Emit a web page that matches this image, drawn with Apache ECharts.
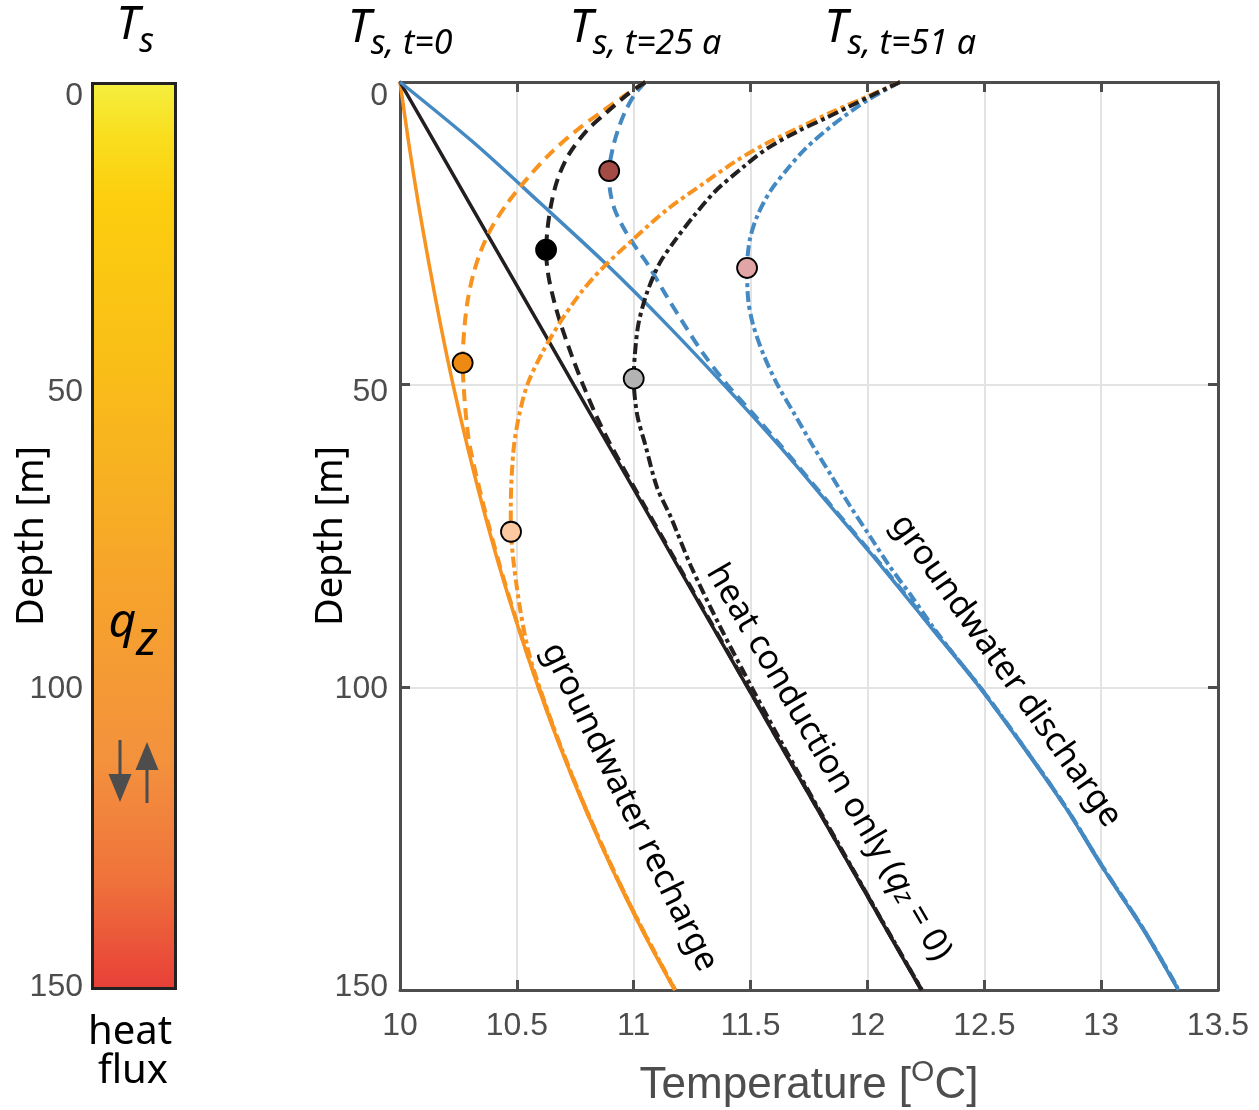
<!DOCTYPE html>
<html>
<head>
<meta charset="utf-8">
<title>Subsurface temperature profiles</title>
<script src="https://cdn.jsdelivr.net/npm/echarts@6.0.0/dist/echarts.min.js"></script>
<style>
  html, body { margin: 0; padding: 0; background: #ffffff; }
  #chart { width: 1259px; height: 1110px; }
</style>
</head>
<body>
<div id="chart"></div>
<script>
// ---- steady-state profiles (surface temperature at t = 0) ----
const depthSteady = [0, 10, 20, 30, 40, 50, 60, 70, 80, 90, 100, 110, 120, 130, 140, 150];
const tempRechargeT0   = [10.000, 10.037, 10.078, 10.124, 10.173, 10.227, 10.287, 10.353, 10.425, 10.505, 10.592, 10.687, 10.792, 10.908, 11.035, 11.175];
const tempConductionT0 = [10.000, 10.149, 10.297, 10.446, 10.595, 10.743, 10.892, 11.041, 11.189, 11.338, 11.487, 11.635, 11.784, 11.933, 12.081, 12.230];
const tempDischargeT0  = [10.000, 10.315, 10.600, 10.880, 11.140, 11.385, 11.620, 11.840, 12.060, 12.270, 12.480, 12.670, 12.850, 13.010, 13.180, 13.330];

// ---- profiles after 25 years of surface warming ----
const depthRechargeT25 = [0, 2, 5, 8, 12, 16, 20, 24, 28, 32, 36, 40, 46, 50, 55, 60, 70, 80, 90, 100, 110, 120, 130, 140, 150];
const tempRechargeT25  = [11.05, 10.97, 10.86, 10.755, 10.638, 10.543, 10.46, 10.393, 10.345, 10.312, 10.29, 10.277, 10.268, 10.272, 10.282, 10.298, 10.358, 10.428, 10.507, 10.594, 10.689, 10.794, 10.91, 11.037, 11.177];
const depthConductionT25 = [0, 2, 5, 8, 12, 16, 20, 24, 28, 32, 36, 40, 45, 50, 55, 60, 70, 80, 90, 100, 110, 120, 130, 140, 150];
const tempConductionT25  = [11.05, 10.975, 10.885, 10.80, 10.722, 10.675, 10.648, 10.632, 10.625, 10.635, 10.658, 10.688, 10.733, 10.783, 10.838, 10.902, 11.046, 11.193, 11.341, 11.489, 11.637, 11.786, 11.935, 12.083, 12.232];
const depthDischargeT25 = [0, 2, 5, 8, 11, 14.7, 18, 21, 24, 27, 30, 35, 40, 45, 50, 55, 60, 70, 80, 90, 100, 110, 120, 130, 140, 150];
const tempDischargeT25  = [11.05, 11.005, 10.962, 10.932, 10.91, 10.895, 10.899, 10.918, 10.955, 11.003, 11.058, 11.135, 11.215, 11.30, 11.40, 11.515, 11.628, 11.845, 12.064, 12.273, 12.482, 12.672, 12.852, 13.012, 13.182, 13.332];

// ---- profiles after 51 years of surface warming ----
const depthRechargeT51 = [0, 2.4, 5, 7.5, 10, 13, 17, 21, 26, 31, 35, 40, 45, 50, 55, 60, 65, 70, 74.3, 80, 88, 95, 102, 110, 120, 130, 140, 150];
const tempRechargeT51  = [12.14, 12.0, 11.845, 11.71, 11.575, 11.44, 11.29, 11.145, 10.997, 10.86, 10.77, 10.68, 10.605, 10.545, 10.51, 10.488, 10.478, 10.474, 10.475, 10.488, 10.518, 10.556, 10.615, 10.69, 10.795, 10.911, 11.038, 11.178];
const depthConductionT51 = [0, 2, 4, 6, 8, 11, 14, 18, 22, 26, 30, 35, 40, 45, 49, 55, 60, 67, 72, 80, 90, 100, 110, 120, 130, 140, 150];
const tempConductionT51  = [12.14, 12.03, 11.925, 11.82, 11.71, 11.57, 11.47, 11.35, 11.26, 11.18, 11.11, 11.055, 11.02, 11.005, 11.0, 11.015, 11.05, 11.10, 11.16, 11.245, 11.37, 11.505, 11.645, 11.79, 11.937, 12.084, 12.233];
const depthDischargeT51 = [0, 3, 7, 11, 14.5, 18, 22, 26, 30.7, 36, 40, 45, 50, 55, 60, 65, 70, 75, 80, 85, 90, 95, 100, 110, 120, 130, 140, 150];
const tempDischargeT51  = [12.14, 12.0, 11.855, 11.735, 11.655, 11.585, 11.53, 11.497, 11.485, 11.49, 11.51, 11.555, 11.615, 11.69, 11.765, 11.845, 11.925, 12.01, 12.095, 12.19, 12.28, 12.378, 12.483, 12.672, 12.852, 13.012, 13.182, 13.332];

// ---- turning points (temperature minima) of the transient profiles ----
const minimaTemps  = [10.895, 10.625, 10.268, 11.485, 11.0, 10.475];
const minimaDepths = [14.7, 27.7, 46.4, 30.7, 49.0, 74.3];
const minimaColors = ['#a54b45', '#000000', '#ee8a12', '#e0a5a4', '#b3b3b3', '#fcc9a0'];

// ---- surface temperature at each time step ----
const surfaceTemps  = [10, 11.05, 12.14];
const surfaceLabels = ['s, t=0', 's, t=25 a', 's, t=51 a'];

// ---- axis ticks ----
const tempTicks  = { min: 10, max: 13.5, step: 0.5 };
const depthTicks = { min: 0, max: 150, step: 50 };
const columnDepth = [150];

const ORANGE = '#f7931e';
const BLACK  = '#231f20';
const BLUE   = '#4589c2';
const AXIS_GREY = '#4d4d4d';
const TEXT_FONT = '"Noto Sans", "Open Sans", sans-serif';
const TICK_FONT = '"Liberation Sans", Arial, sans-serif';

function pairs(temps, depths) {
  return depths.map((d, i) => [temps[i], d]);
}

function profile(name, temps, depths, color, dash, width, z) {
  return {
    name: name,
    type: 'line',
    xAxisIndex: 1,
    yAxisIndex: 1,
    data: pairs(temps, depths),
    showSymbol: false,
    smooth: 0.3,
    silent: true,
    z: z,
    lineStyle: { color: color, width: width, type: dash, cap: 'butt' }
  };
}

const DASHED = [12, 7];
const DASHDOT = [11, 4, 4, 4];

// depth tick labels sit slightly below their ticks, most at the surface
const depthLabelStyle = (pad) => ({ fontSize: 32, fontFamily: TICK_FONT, color: AXIS_GREY, padding: pad });
const depthLabelRich = {
  d0: depthLabelStyle([28, 0, 0, 0]),
  d50: depthLabelStyle([16, 0, 0, 0]),
  d100: depthLabelStyle([4, 0, 0, 0]),
  d150: depthLabelStyle([0, 0, 6, 0])
};
const depthLabelFormatter = (v) => '{d' + v + '|' + v + '}';

const chart = echarts.init(document.getElementById('chart'), null, { renderer: 'canvas' });

const boxAxisLine = { show: true, onZero: false, lineStyle: { color: AXIS_GREY, width: 3 } };
const boxTick = { show: true, inside: true, length: 10, lineStyle: { color: AXIS_GREY, width: 3 } };

const option = {
  animation: false,
  backgroundColor: '#ffffff',
  grid: [
    { left: 91, top: 82, width: 86, height: 908, containLabel: false, outerBoundsMode: 'none' },
    { left: 400, top: 82, width: 818, height: 908, containLabel: false, outerBoundsMode: 'none' }
  ],
  xAxis: [
    { gridIndex: 0, type: 'category', data: ['qz'], show: false },
    {
      gridIndex: 1, type: 'value', position: 'bottom',
      min: tempTicks.min, max: tempTicks.max, interval: tempTicks.step,
      axisLine: boxAxisLine, axisTick: boxTick,
      axisLabel: { color: AXIS_GREY, fontSize: 32, fontFamily: TICK_FONT, margin: 20 },
      splitLine: { show: true, lineStyle: { color: '#e3e3e3', width: 2 } },
      name: '{b|Temperature [}{sup|O}{b|C]}',
      nameLocation: 'middle',
      nameGap: 68,
      nameMoveOverlap: false,
      nameTextStyle: {
        rich: {
          b: { fontSize: 44, fontFamily: TICK_FONT, color: AXIS_GREY, lineHeight: 50, verticalAlign: 'bottom' },
          sup: { fontSize: 30, fontFamily: TICK_FONT, color: AXIS_GREY, lineHeight: 30, padding: [0, 0, 20, 0], verticalAlign: 'bottom' }
        }
      }
    },
    {
      gridIndex: 1, type: 'value', position: 'top',
      min: tempTicks.min, max: tempTicks.max, interval: tempTicks.step,
      axisLine: boxAxisLine, axisTick: boxTick,
      axisLabel: { show: false }, splitLine: { show: false }
    }
  ],
  yAxis: [
    {
      gridIndex: 0, type: 'value', inverse: true,
      min: depthTicks.min, max: depthTicks.max, interval: depthTicks.step,
      axisLine: { show: false }, axisTick: { show: false },
      axisLabel: { color: AXIS_GREY, fontSize: 32, fontFamily: TICK_FONT, margin: 8, formatter: depthLabelFormatter, rich: depthLabelRich },
      splitLine: { show: false },
      name: 'Depth [m]', nameLocation: 'middle', nameRotate: 90, nameGap: 40,
      nameMoveOverlap: false,
      nameTextStyle: { fontSize: 38, fontFamily: TEXT_FONT, color: '#000000' }
    },
    {
      gridIndex: 1, type: 'value', inverse: true, position: 'left',
      min: depthTicks.min, max: depthTicks.max, interval: depthTicks.step,
      axisLine: boxAxisLine, axisTick: boxTick,
      axisLabel: { color: AXIS_GREY, fontSize: 32, fontFamily: TICK_FONT, margin: 12, formatter: depthLabelFormatter, rich: depthLabelRich },
      splitLine: { show: true, lineStyle: { color: '#e3e3e3', width: 2 } },
      name: 'Depth [m]', nameLocation: 'middle', nameRotate: 90, nameGap: 50,
      nameMoveOverlap: false,
      nameTextStyle: { fontSize: 38, fontFamily: TEXT_FONT, color: '#000000' }
    },
    {
      gridIndex: 1, type: 'value', inverse: true, position: 'right',
      min: depthTicks.min, max: depthTicks.max, interval: depthTicks.step,
      axisLine: boxAxisLine, axisTick: boxTick,
      axisLabel: { show: false }, splitLine: { show: false }
    }
  ],
  series: [
    {
      name: 'heat flux column',
      type: 'bar',
      xAxisIndex: 0,
      yAxisIndex: 0,
      data: columnDepth,
      barWidth: '100%',
      silent: true,
      itemStyle: {
        color: new echarts.graphic.LinearGradient(0, 0, 0, 1, [
          { offset: 0.00, color: '#f4ef40' },
          { offset: 0.06, color: '#f9de1e' },
          { offset: 0.13, color: '#fcce0e' },
          { offset: 0.32, color: '#f9bd18' },
          { offset: 0.55, color: '#f6a42b' },
          { offset: 0.75, color: '#f3913d' },
          { offset: 0.88, color: '#ef723b' },
          { offset: 1.00, color: '#e83f38' }
        ]),
        borderColor: '#222222',
        borderWidth: 3
      }
    },
    profile('recharge t=0', tempRechargeT0, depthSteady, ORANGE, 'solid', 3.5, 2),
    profile('conduction t=0', tempConductionT0, depthSteady, BLACK, 'solid', 3.5, 2),
    profile('discharge t=0', tempDischargeT0, depthSteady, BLUE, 'solid', 3.5, 2),
    profile('discharge t=25', tempDischargeT25, depthDischargeT25, BLUE, DASHED, 4, 3),
    profile('recharge t=25', tempRechargeT25, depthRechargeT25, ORANGE, DASHED, 4, 3),
    profile('conduction t=25', tempConductionT25, depthConductionT25, BLACK, DASHED, 4, 3),
    profile('discharge t=51', tempDischargeT51, depthDischargeT51, BLUE, DASHDOT, 4, 3),
    profile('recharge t=51', tempRechargeT51, depthRechargeT51, ORANGE, DASHDOT, 4, 3),
    profile('conduction t=51', tempConductionT51, depthConductionT51, BLACK, DASHDOT, 4, 3),
    {
      name: 'minima',
      type: 'scatter',
      xAxisIndex: 1,
      yAxisIndex: 1,
      symbol: 'circle',
      symbolSize: 20,
      silent: true,
      z: 5,
      data: minimaTemps.map((t, i) => ({
        value: [t, minimaDepths[i]],
        itemStyle: { color: minimaColors[i], borderColor: '#000000', borderWidth: 1.8, opacity: 1 }
      }))
    }
  ]
};

chart.setOption(option);

// ---- annotations ----
const titleRich = {
  T: { fontSize: 46, fontStyle: 'italic', fontFamily: TEXT_FONT, fill: '#000', lineHeight: 50, padding: [0, 0, 9, 0], verticalAlign: 'bottom' },
  s: { fontSize: 34, fontStyle: 'italic', fontFamily: TEXT_FONT, fill: '#000', lineHeight: 38, verticalAlign: 'bottom' }
};

const graphics = [];

surfaceTemps.forEach((t, i) => {
  const px = chart.convertToPixel({ xAxisIndex: 1 }, t);
  graphics.push({
    type: 'text', x: px, y: 36, z: 100, silent: true,
    style: { text: '{T|T}{s|' + surfaceLabels[i] + '}', rich: titleRich, align: 'center', verticalAlign: 'middle' }
  });
});

// column title
graphics.push({
  type: 'text', x: 135, y: 34, z: 100, silent: true,
  style: {
    text: '{T|T}{s|s}',
    rich: {
      T: { fontSize: 46, fontStyle: 'italic', fontFamily: TEXT_FONT, fill: '#000', lineHeight: 50, padding: [0, 0, 10, 0], verticalAlign: 'bottom' },
      s: { fontSize: 34, fontStyle: 'italic', fontFamily: TEXT_FONT, fill: '#000', lineHeight: 38, verticalAlign: 'bottom' }
    },
    align: 'center', verticalAlign: 'middle'
  }
});

// q_z inside the column
graphics.push({
  type: 'text', x: 133, y: 640, z: 100, silent: true,
  style: {
    text: '{q|q}{z|z}',
    rich: {
      q: { fontSize: 48, fontStyle: 'italic', fontFamily: TEXT_FONT, fill: '#000', lineHeight: 50, padding: [0, 0, 18, 0], verticalAlign: 'bottom' },
      z: { fontSize: 48, fontStyle: 'italic', fontFamily: TEXT_FONT, fill: '#000', lineHeight: 50, verticalAlign: 'bottom' }
    },
    align: 'center', verticalAlign: 'middle'
  }
});

// up/down flow arrows
graphics.push(
  { type: 'line', z: 100, silent: true, shape: { x1: 120, y1: 740, x2: 120, y2: 780 }, style: { stroke: AXIS_GREY, lineWidth: 3 } },
  { type: 'polygon', z: 100, silent: true, shape: { points: [[108.5, 774], [131.5, 774], [120, 802]] }, style: { fill: AXIS_GREY } },
  { type: 'line', z: 100, silent: true, shape: { x1: 147, y1: 803, x2: 147, y2: 765 }, style: { stroke: AXIS_GREY, lineWidth: 3 } },
  { type: 'polygon', z: 100, silent: true, shape: { points: [[135.5, 770], [158.5, 770], [147, 742]] }, style: { fill: AXIS_GREY } }
);

// "heat flux" caption
graphics.push(
  { type: 'text', x: 130, y: 1033, z: 100, silent: true, style: { text: 'heat', fontSize: 40, fontFamily: TEXT_FONT, fill: '#000', align: 'center', verticalAlign: 'middle' } },
  { type: 'text', x: 133, y: 1072, z: 100, silent: true, style: { text: 'flux', fontSize: 40, fontFamily: TEXT_FONT, fill: '#000', align: 'center', verticalAlign: 'middle' } }
);

// labels along the steady-state profiles
const labelBase = { fontSize: 34, fontFamily: TEXT_FONT, fill: '#000', lineHeight: 44, verticalAlign: 'bottom' };
function alongLabel(text, x, y, deg) {
  return {
    type: 'text', x: x, y: y, rotation: -deg * Math.PI / 180, z: 100, silent: true,
    style: {
      text: text,
      rich: {
        n: labelBase,
        q: Object.assign({}, labelBase, { fontStyle: 'italic' }),
        z: { fontSize: 26, fontStyle: 'italic', fontFamily: TEXT_FONT, fill: '#000', lineHeight: 26, verticalAlign: 'bottom' }
      },
      align: 'center', verticalAlign: 'middle'
    }
  };
}
graphics.push(
  alongLabel('{n|groundwater recharge}', 634, 805, 64),
  alongLabel('{n|heat conduction only (}{q|q}{z|z}{n| = 0)}', 833, 760, 59.7),
  alongLabel('{n|groundwater discharge}', 1010, 668, 54.7)
);

chart.setOption({ graphic: graphics });
</script>
</body>
</html>
